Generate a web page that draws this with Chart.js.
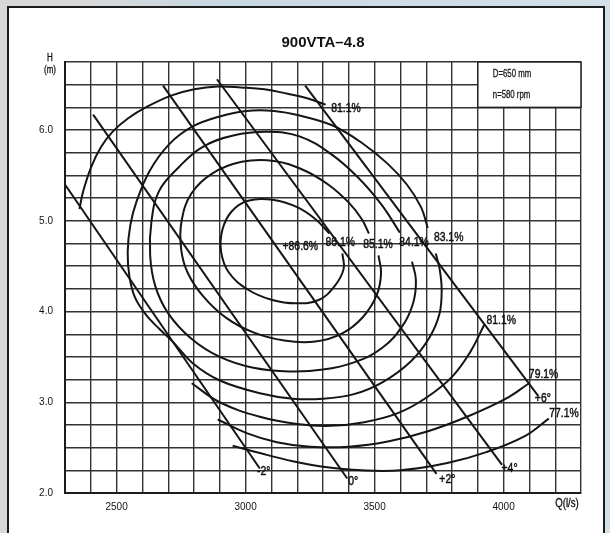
<!DOCTYPE html>
<html>
<head>
<meta charset="utf-8">
<script src="https://cdn.jsdelivr.net/npm/chart.js@4.4.1/dist/chart.umd.min.js"></script>
<style>
html, body { margin: 0; padding: 0; }
body {
  width: 610px; height: 533px; overflow: hidden; position: relative;
  background: linear-gradient(90deg, #d6d8d9 0px, #d6d8d9 90px, #c8d8e2 220px, #d3e0e8 100%);
}
#frame { position: absolute; left: 7px; top: 6px; width: 594px; height: 540px; border: 2px solid #1c1c1c; background: #fff; }
#wrap { position: absolute; left: 0; top: 0; width: 610px; height: 533px; }
</style>
</head>
<body>
<div id="frame"></div>
<div id="wrap"><canvas id="pump"></canvas></div>
<script>
// axis ticks
const xLabels = [2500, 3000, 3500, 4000];
const yLabels = [2, 3, 4, 5, 6];

// blade angle lines [Q, H]
const bladeM2 = [[2300, 5.40], [3055, 2.27]];
const blade0  = [[2409, 6.17], [3394, 2.16]];
const bladeP2 = [[2680, 6.49], [3740, 2.21]];
const bladeP4 = [[2889, 6.56], [3994, 2.31]];
const bladeP6 = [[3231, 6.49], [4134, 3.07]];

// efficiency contours [Q, H]
const eff861 = [[3325,4.86],[3270,5.02],[3200,5.15],[3110,5.23],[3010,5.22],[2945,5.10],[2910,4.90],[2905,4.66],
  [2935,4.43],[3010,4.24],[3100,4.13],[3195,4.09],[3285,4.13],[3345,4.28],[3380,4.47],[3375,4.64]];
const eff851 = [[3478,4.86],[3450,5.02],[3400,5.20],[3320,5.40],[3224,5.56],[3110,5.66],[2985,5.65],[2870,5.52],
  [2790,5.30],[2752,5.00],[2750,4.69],[2775,4.43],[2835,4.17],[2925,3.93],[3030,3.77],[3150,3.68],[3270,3.67],
  [3375,3.76],[3455,3.94],[3508,4.18],[3525,4.42],[3515,4.62]];
const eff841 = [[3598,4.87],[3526,5.18],[3435,5.48],[3329,5.74],[3209,5.93],[3088,5.98],[2952,5.94],[2831,5.81],
  [2741,5.59],[2665,5.33],[2635,4.99],[2630,4.62],[2650,4.28],[2700,3.98],[2790,3.70],[2900,3.50],[3030,3.38],
  [3170,3.34],[3300,3.36],[3420,3.44],[3530,3.60],[3610,3.85],[3650,4.10],[3660,4.35],[3645,4.55]];
const eff831 = [[3706,4.92],[3680,5.15],[3625,5.40],[3550,5.63],[3450,5.86],[3338,6.05],[3210,6.16],[3110,6.21],
  [3004,6.21],[2900,6.15],[2795,6.04],[2706,5.85],[2628,5.55],[2578,5.22],[2553,4.95],[2543,4.65],[2550,4.38],
  [2572,4.15],[2615,3.96],[2665,3.81],[2720,3.66],[2795,3.43],[2900,3.24],[3055,3.10],[3183,3.04],[3300,3.04],
  [3420,3.09],[3530,3.22],[3640,3.45],[3714,3.72],[3752,3.98],[3760,4.24],[3752,4.47],[3737,4.64]];
const eff811Top = [[2356,5.13],[2371,5.33],[2401,5.59],[2439,5.81],[2484,5.98],[2545,6.13],[2620,6.26],[2711,6.38],
  [2801,6.45],[2892,6.48],[2982,6.47],[3073,6.45],[3163,6.40],[3239,6.35],[3310,6.28]];
const eff811Low = [[2791,3.21],[2900,3.00],[3055,2.84],[3200,2.76],[3330,2.74],[3460,2.78],[3590,2.88],[3700,3.05],
  [3800,3.28],[3870,3.55],[3926,3.86]];
const eff791 = [[2892,2.81],[3004,2.66],[3121,2.56],[3250,2.51],[3400,2.51],[3556,2.57],[3707,2.68],[3858,2.84],
  [4009,3.04],[4099,3.21]];
const eff771 = [[2950,2.52],[3055,2.44],[3183,2.35],[3300,2.29],[3450,2.25],[3600,2.25],[3782,2.33],[3933,2.45],
  [4084,2.63],[4175,2.82]];

// curve labels [text, Q, H]
const curveLabels = [
  ['+86.6%', 3212, 4.72], ['86.1%', 3367, 4.76], ['85.1%', 3513, 4.74], ['84.1%', 3653, 4.76],
  ['83.1%', 3787, 4.82], ['81.1%', 3389, 6.24], ['81.1%', 3991, 3.90], ['79.1%', 4155, 3.31],
  ['77.1%', 4234, 2.88], ['-2°', 3070, 2.24], ['0°', 3417, 2.13], ['+2°', 3782, 2.15],
  ['+4°', 4023, 2.27], ['+6°', 4152, 3.04]
];

const sans = "'Liberation Sans', Arial, sans-serif";
const ink = '#151515';

function curve(points, tension) {
  return {
    data: points.map(p => ({ x: p[0], y: p[1] })),
    showLine: true,
    borderColor: ink,
    borderWidth: 2,
    pointRadius: 0,
    tension: tension,
    fill: false
  };
}

// narrow text: squeeze horizontally like Arial Narrow
function narrowText(ctx, txt, px, py, size, squeeze, heavy) {
  ctx.save();
  ctx.translate(px, py);
  ctx.scale(squeeze, 1);
  ctx.font = size + 'px ' + sans;
  ctx.fillText(txt, 0, 0);
  if (heavy) {
    ctx.lineWidth = heavy;
    ctx.strokeStyle = ctx.fillStyle;
    ctx.strokeText(txt, 0, 0);
  }
  ctx.restore();
}

const notes = {
  id: 'notes',
  beforeDatasetsDraw(chart) {
    const { ctx, scales: { x, y } } = chart;
    const l = x.getPixelForValue(3900), r = x.getPixelForValue(4300);
    const t = y.getPixelForValue(6.75), b = y.getPixelForValue(6.25);
    ctx.save();
    ctx.fillStyle = '#fff';
    ctx.fillRect(l, t, r - l, b - t);
    ctx.strokeStyle = '#222';
    ctx.lineWidth = 1.5;
    ctx.strokeRect(l, t, r - l, b - t);
    ctx.fillStyle = '#1a1a1a';
    ctx.textAlign = 'left';
    ctx.textBaseline = 'middle';
    narrowText(ctx, 'D=650 mm', l + 15, t + 12, 10, 0.78, 0.3);
    narrowText(ctx, 'n=580 rpm', l + 15, t + 33, 10, 0.78, 0.3);
    ctx.restore();
  },
  afterDatasetsDraw(chart) {
    const { ctx, chartArea: a, scales: { x, y } } = chart;
    ctx.save();
    ctx.fillStyle = '#111';
    ctx.textAlign = 'center';
    ctx.textBaseline = 'middle';
    curveLabels.forEach(([txt, q, h]) =>
      narrowText(ctx, txt, x.getPixelForValue(q), y.getPixelForValue(h), 13, 0.8, 0.45));

    ctx.font = 'bold 15px ' + sans;
    ctx.fillText('900VTA–4.8', (a.left + a.right) / 2, 43);

    narrowText(ctx, 'H', 50, 58, 10, 0.8, 0.3);
    narrowText(ctx, '(m)', 50, 70, 10, 0.8, 0.3);
    narrowText(ctx, 'Q(l/s)', 567, 504, 12, 0.8, 0.35);
    ctx.restore();
  }
};

new Chart(document.getElementById('pump'), {
  type: 'scatter',
  data: {
    datasets: [
      curve(bladeM2, 0), curve(blade0, 0), curve(bladeP2, 0), curve(bladeP4, 0), curve(bladeP6, 0),
      curve(eff861, 0.4), curve(eff851, 0.4), curve(eff841, 0.4), curve(eff831, 0.35),
      curve(eff811Top, 0.4), curve(eff811Low, 0.4), curve(eff791, 0.4), curve(eff771, 0.4)
    ]
  },
  options: {
    animation: false,
    responsive: true,
    maintainAspectRatio: false,
    layout: { padding: { left: 0, right: 29, top: 62, bottom: 0 } },
    plugins: { legend: { display: false }, tooltip: { enabled: false } },
    scales: {
      x: {
        type: 'linear', min: 2300, max: 4300,
        afterFit(s) { s.height = 40; },
        grid: { color: '#333', lineWidth: 1.4, drawTicks: false },
        border: { color: '#1c1c1c', width: 2 },
        ticks: {
          stepSize: 100, autoSkip: false, maxTicksLimit: 40, maxRotation: 0, padding: 8,
          color: '#111', font: { family: sans, size: 10 },
          callback: v => xLabels.includes(v) ? String(v) : ''
        }
      },
      y: {
        type: 'linear', min: 2, max: 6.75,
        afterFit(s) { s.width = 65; },
        grid: { color: '#333', lineWidth: 1.4, drawTicks: false },
        border: { color: '#1c1c1c', width: 2 },
        ticks: {
          stepSize: 0.25, autoSkip: false, maxTicksLimit: 40, padding: 12,
          color: '#111', font: { family: sans, size: 10 },
          callback: v => yLabels.includes(v) ? v.toFixed(1) : ''
        }
      }
    }
  },
  plugins: [notes]
});
</script>
</body>
</html>
